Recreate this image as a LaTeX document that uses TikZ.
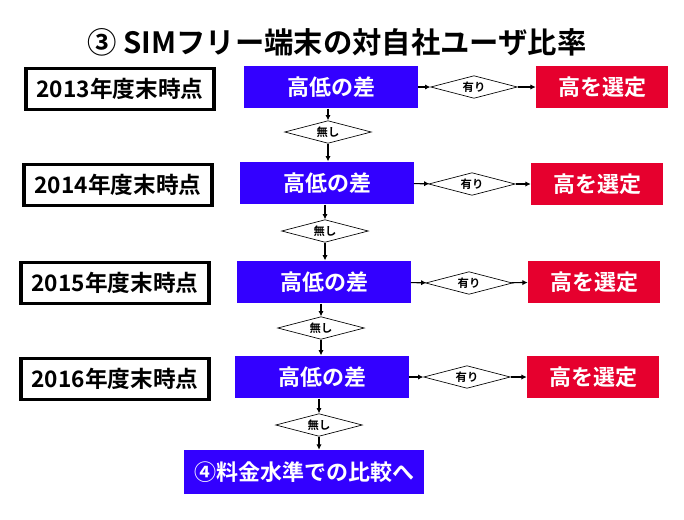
\documentclass[tikz,border=0pt]{standalone}
\usepackage{fontspec}
\setmainfont{Noto Sans CJK JP}[BoldFont={Noto Sans CJK JP Bold}]
\usetikzlibrary{arrows.meta,positioning,shapes.geometric}
\definecolor{diffblue}{RGB}{51,0,255}
\definecolor{selred}{RGB}{230,0,46}
\tikzset{
  yearbox/.style={draw=black, line width=2.4pt, fill=white, minimum width=141pt,
                  minimum height=31pt, inner sep=0pt, font=\fontsize{17}{19}\selectfont\bfseries},
  diffbox/.style={fill=diffblue, text=white, minimum width=130pt, minimum height=32pt,
                  inner sep=0pt, font=\fontsize{16.5}{18}\selectfont\bfseries},
  selbox/.style={fill=selred, text=white, minimum width=99pt, minimum height=32pt,
                 inner sep=0pt, font=\fontsize{16.5}{18}\selectfont\bfseries},
  decide/.style={diamond, draw=black, line width=0.5pt, aspect=4, inner sep=0pt,
                 minimum width=65pt, minimum height=17pt, font=\fontsize{8.5}{9}\selectfont\bfseries},
  flow/.style={-{Latex[length=4pt,width=4pt]}, line width=0.9pt, draw=black},
}
\begin{document}
\begin{tikzpicture}[x=0.75pt, y=-0.75pt]
    \useasboundingbox (0,0) rectangle (684,519);
    \node[font=\fontsize{22}{24}\selectfont\bfseries] (title) at (337,42) {③ SIMフリー端末の対自社ユーザ比率};

    % 2013
    \node[yearbox] (y13) at (120,89) {2013年度末時点};
    \node[diffbox] (d13) at (331,87) {高低の差};
    \node[decide] (a13) at (474,87) {有り};
    \node[selbox] (s13) at (602,87) {高を選定};
    \node[decide] (n13) at (328,132) {無し};
    \draw[flow] (d13) -- (a13);
    \draw[flow] (a13) -- (s13);
    \draw[flow] (d13.south -| n13) -- (n13);

    % 2014
    \node[yearbox] (y14) at (118,185) {2014年度末時点};
    \node[diffbox] (d14) at (327,183) {高低の差};
    \node[decide] (a14) at (472,184) {有り};
    \node[selbox] (s14) at (597,184) {高を選定};
    \node[decide] (n14) at (325,231) {無し};
    \draw[flow] (n13) -- (n13 |- d14.north);
    \draw[flow] (d14) -- (a14);
    \draw[flow] (a14) -- (s14);
    \draw[flow] (d14.south -| n14) -- (n14);

    % 2015
    \node[yearbox] (y15) at (115,283) {2015年度末時点};
    \node[diffbox] (d15) at (324,282) {高低の差};
    \node[decide] (a15) at (469,283) {有り};
    \node[selbox] (s15) at (594,282) {高を選定};
    \node[decide] (n15) at (321,328) {無し};
    \draw[flow] (n14) -- (n14 |- d15.north);
    \draw[flow] (d15) -- (a15);
    \draw[flow] (a15) -- (s15);
    \draw[flow] (d15.south -| n15) -- (n15);

    % 2016
    \node[yearbox] (y16) at (115,379) {2016年度末時点};
    \node[diffbox] (d16) at (322,377) {高低の差};
    \node[decide] (a16) at (467,377) {有り};
    \node[selbox] (s16) at (593,377) {高を選定};
    \node[decide] (n16) at (319,425) {無し};
    \draw[flow] (n15) -- (n15 |- d16.north);
    \draw[flow] (d16) -- (a16);
    \draw[flow] (a16) -- (s16);
    \draw[flow] (d16.south -| n16) -- (n16);

    % next step
    \node[diffbox, minimum width=180pt, minimum height=33pt] (fee) at (304,472) {④料金水準での比較へ};
    \draw[flow] (n16) -- (n16 |- fee.north);
  \end{tikzpicture}
\end{document}
